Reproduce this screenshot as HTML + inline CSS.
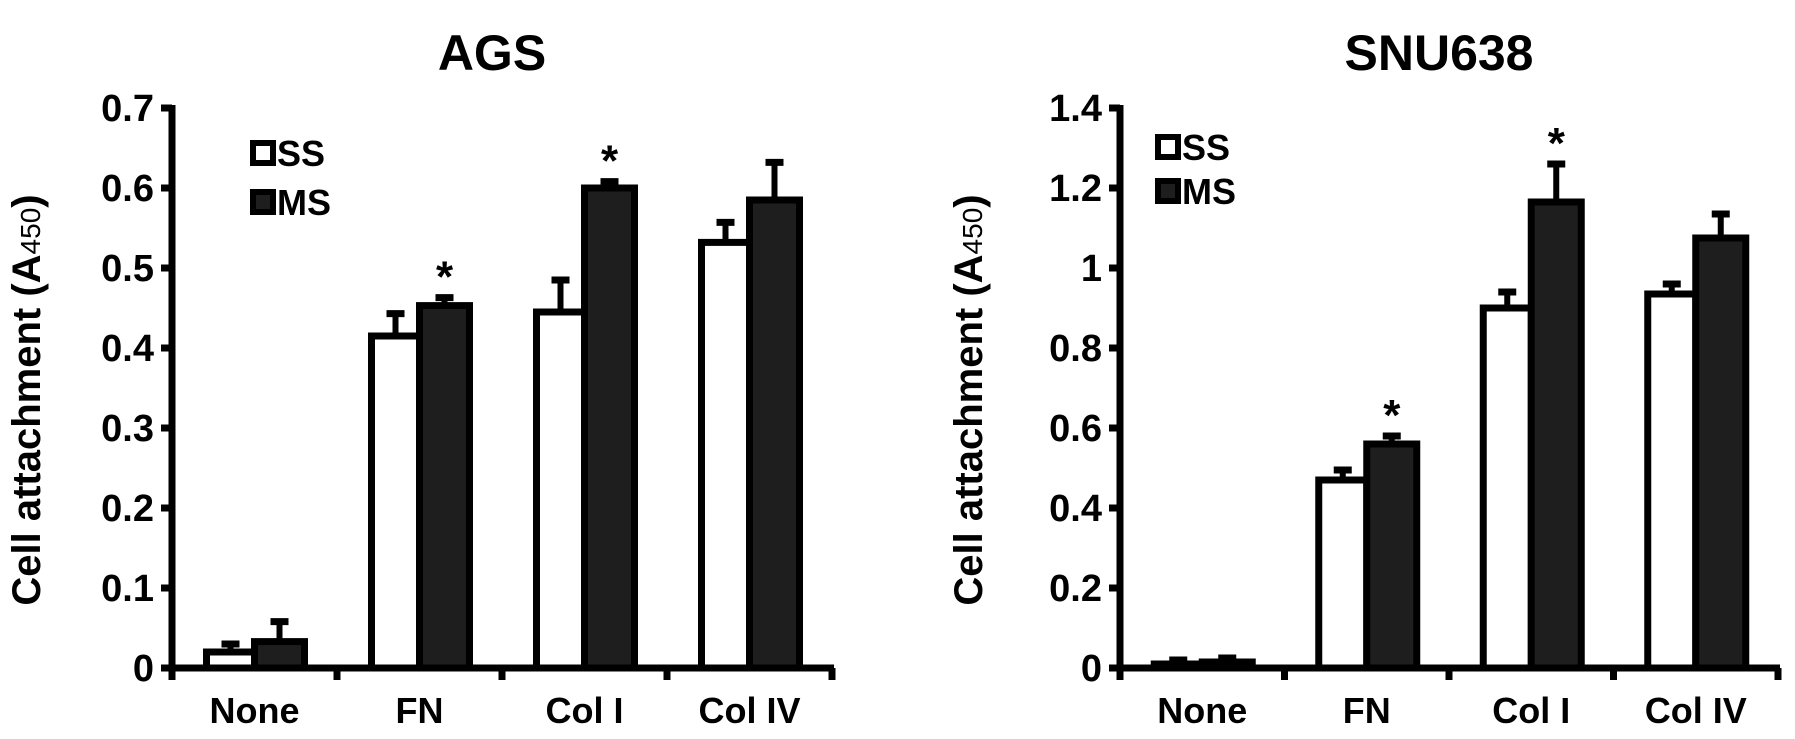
<!DOCTYPE html>
<html><head><meta charset="utf-8">
<style>
html,body{margin:0;padding:0;background:#fff;}
svg{display:block;font-family:"Liberation Sans",Arial,sans-serif;font-weight:bold;}
</style></head>
<body>
<svg id="fig" width="1795" height="739" viewBox="0 0 1795 739" xmlns="http://www.w3.org/2000/svg"></svg>
<script>
const categories = ["None","FN","Col I","Col IV"];
const agsSS = [0.020, 0.415, 0.445, 0.532];
const agsSSerr = [0.030, 0.443, 0.485, 0.557];
const agsMS = [0.033, 0.453, 0.600, 0.585];
const agsMSerr = [0.058, 0.463, 0.608, 0.632];
const agsSig = [false, true, true, false];
const agsTicks = ["0","0.1","0.2","0.3","0.4","0.5","0.6","0.7"];
const agsTickVals = [0,0.1,0.2,0.3,0.4,0.5,0.6,0.7];

const snuSS = [0.010, 0.470, 0.900, 0.935];
const snuSSerr = [0.020, 0.495, 0.940, 0.960];
const snuMS = [0.015, 0.560, 1.165, 1.075];
const snuMSerr = [0.025, 0.580, 1.260, 1.135];
const snuSig = [false, true, true, false];
const snuTicks = ["0","0.2","0.4","0.6","0.8","1","1.2","1.4"];
const snuTickVals = [0,0.2,0.4,0.6,0.8,1,1.2,1.4];

const NS = "http://www.w3.org/2000/svg";
const svg = document.getElementById("fig");
function mk(tag, attrs, parent){
  const e = document.createElementNS(NS, tag);
  for (const k in attrs) e.setAttribute(k, attrs[k]);
  (parent||svg).appendChild(e);
  return e;
}

function chart(cfg){
  const g = mk("g", {});
  
  
  const x0 = cfg.x0, catW = cfg.catW, yTop = 108, yZero = 668;
  const yMax = cfg.tickVals[cfg.tickVals.length-1];
  const y = v => yZero - (v / yMax) * (yZero - yTop);
  const cx = i => x0 + catW * (i + 0.5);
  const x1 = x0 + catW * cfg.cats.length;

  const t = mk("text", {x:(x0+x1)/2 - 10, y:70, "text-anchor":"middle", "font-size":50}, g);
  t.textContent = cfg.title;
  
  

  const yt = mk("text", {x:0, y:0, "text-anchor":"middle", "font-size":40,
    transform:`translate(${cfg.ytX},400) rotate(-90)`}, g);
  
  
  yt.appendChild(document.createTextNode("Cell attachment (A"));
  const sub = mk("tspan", {"font-size":28, "font-weight":"normal"}, yt);
  sub.textContent = "450";
  yt.appendChild(document.createTextNode(")"));

  const ya = mk("line", {x1:x0, y1:yTop-3, x2:x0, y2:yZero+12, stroke:"#000", "stroke-width":7}, g);
  
  
  const xa = mk("line", {x1:x0, y1:yZero, x2:x1+2, y2:yZero, stroke:"#000", "stroke-width":7}, g);
  
  

  cfg.tickVals.forEach((v, i) => {
    const tk = mk("line", {x1:x0-11, y1:y(v), x2:x0, y2:y(v), stroke:"#000", "stroke-width":7}, g);
    
    
    const tl = mk("text", {x:x0-18, y:y(v)+13, "text-anchor":"end", "font-size":38}, g);
    tl.textContent = cfg.ticks[i];
    
    
  });
  for (let i = 1; i <= cfg.cats.length; i++){
    const xt = mk("line", {x1:x0+catW*i, y1:yZero, x2:x0+catW*i, y2:yZero+12, stroke:"#000", "stroke-width":7}, g);
    
    
  }

  cfg.cats.forEach((c, i) => {
    const c0 = cx(i);
    const bars = [
      {v:cfg.ss[i], e:cfg.sse[i], l:c0-48, r:c0, fill:"#fff", n:"bar-ss"},
      {v:cfg.ms[i], e:cfg.mse[i], l:c0, r:c0+50, fill:"#1e1e1e", n:"bar-ms"}
    ];
    bars.forEach(b => {
      const mid = (b.l + b.r)/2;
      const eb = mk("line", {x1:mid, y1:y(b.v), x2:mid, y2:y(b.e), stroke:"#000", "stroke-width":6}, g);
      
      
      const cap = mk("line", {x1:mid-9, y1:y(b.e), x2:mid+9, y2:y(b.e), stroke:"#000", "stroke-width":7}, g);
      
      
      const r = mk("rect", {x:b.l, y:y(b.v), width:b.r-b.l, height:yZero-y(b.v), fill:b.fill, stroke:"#000", "stroke-width":7}, g);
      
      
    });
    if (cfg.sig[i]){
      const s = mk("text", {x:c0+25, y:y(cfg.mse[i])-6, "text-anchor":"middle", "font-size":44}, g);
      s.textContent = "*";
      
      
    }
    const cl = mk("text", {x:c0, y:723, "text-anchor":"middle", "font-size":36}, g);
    cl.textContent = c;
    
    
  });

  const leg = mk("g", {}, g);
  
  
  [["SS","#fff",cfg.legY[0]],["MS","#1e1e1e",cfg.legY[1]]].forEach(([lab, fill, ly]) => {
    const sw = mk("rect", {x:cfg.legX, y:ly-10, width:20, height:20, fill:fill, stroke:"#000", "stroke-width":6}, leg);
    
    
    const lt = mk("text", {x:cfg.legX+24, y:ly+13, "font-size":36}, leg);
    lt.textContent = lab;
    
    
  });
}

chart({name:"ags-chart", title:"AGS", x0:172, catW:165, ytX:40, cats:categories,
  ss:agsSS, sse:agsSSerr, ms:agsMS, mse:agsMSerr, sig:agsSig,
  ticks:agsTicks, tickVals:agsTickVals, legX:253, legY:[153,202]});
chart({name:"snu638-chart", title:"SNU638", x0:1120, catW:164.5, ytX:982, cats:categories,
  ss:snuSS, sse:snuSSerr, ms:snuMS, mse:snuMSerr, sig:snuSig,
  ticks:snuTicks, tickVals:snuTickVals, legX:1158, legY:[147,191]});
</script>
</body></html>
